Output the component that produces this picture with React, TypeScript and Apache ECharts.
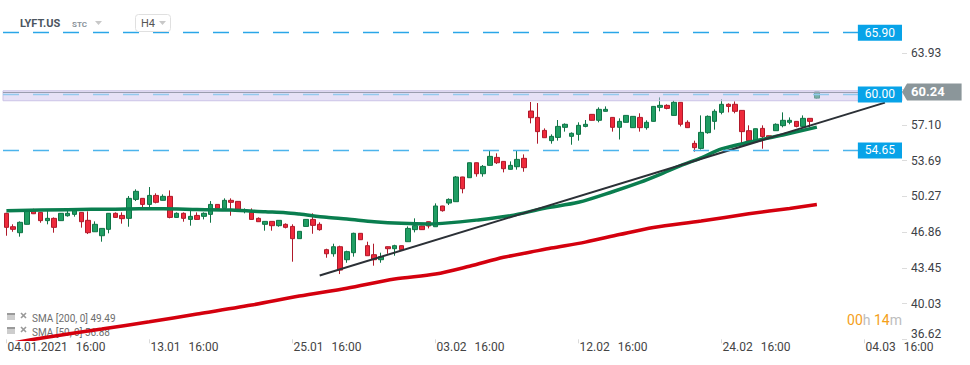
import React, { useEffect, useRef } from 'react';
import * as echarts from 'echarts';

// ---------- data ----------
const categoryCount = 132;
const xTickStep = 21;
const xTickLabels = [
  '04.01.2021 16:00', '13.01 16:00', '25.01 16:00', '03.02 16:00',
  '12.02 16:00', '24.02 16:00', '04.03 16:00',
];
const yTicks = [36.62, 40.03, 43.45, 46.86, 50.27, 53.69, 57.1, 63.93];
const yHiddenTick = 60.52;
const yMin = 36.62;
const yMax = 69.02;

// [open, close, low, high]
const candles: number[][] = [
  [48.65, 47.31, 46.51, 48.7], [47.37, 47.12, 46.89, 47.6], [46.8, 47.79, 46.42, 47.88], [47.6, 48.96, 47.58, 49.03],
  [48.87, 48.61, 48.58, 49.09], [48.74, 47.95, 47.75, 48.76], [47.95, 48.17, 47.6, 49.03], [48.17, 47.31, 46.8, 48.26],
  [47.95, 48.65, 47.93, 48.67], [48.42, 48.65, 48.33, 49.03], [48.55, 49.03, 48.33, 49.12], [48.74, 47.85, 47.28, 48.76],
  [47.98, 46.8, 46.67, 48.84], [46.89, 47.6, 46.87, 47.88], [46.51, 47.21, 45.94, 47.23], [47.12, 48.65, 46.74, 48.67],
  [48.65, 48.26, 48.24, 48.74], [48.45, 48.14, 47.66, 48.74], [48.17, 50.08, 47.37, 50.3], [49.98, 50.75, 49.82, 50.94],
  [50.08, 49.5, 49.22, 50.1], [49.5, 50.36, 49.22, 51.16], [50.36, 49.7, 49.6, 50.56], [49.89, 50.27, 49.87, 50.46],
  [50.27, 48.26, 48.17, 50.84], [48.26, 48.65, 48.24, 48.74], [48.65, 48.17, 47.85, 48.74], [48.07, 48.36, 47.47, 48.93],
  [48.45, 48.07, 48.05, 48.74], [48.36, 48.65, 48.07, 48.74], [48.55, 49.5, 47.75, 49.82], [49.5, 49.12, 49.1, 49.52],
  [49.12, 49.89, 49.1, 50.08], [49.89, 49.7, 48.42, 50.08], [49.79, 49.03, 49.01, 49.81], [48.84, 48.93, 48.65, 49.12],
  [48.74, 48.07, 48.05, 49.12], [48.17, 47.85, 47.83, 48.26], [47.6, 47.88, 46.99, 47.9], [47.88, 47.47, 46.99, 47.9],
  [47.47, 47.98, 47.37, 48.0], [47.6, 47.31, 47.21, 47.69], [47.4, 46.23, 44.03, 47.6], [46.23, 46.93, 46.21, 46.95],
  [47.4, 48.07, 47.38, 48.09], [48.07, 47.5, 46.7, 48.65], [47.6, 47.09, 46.99, 47.79], [45.18, 44.79, 44.41, 45.27],
  [44.79, 45.46, 44.51, 45.75], [45.46, 43.23, 42.85, 45.56], [44.22, 44.99, 43.93, 45.08], [44.89, 46.74, 44.51, 46.8],
  [46.74, 46.13, 46.11, 46.76], [45.56, 44.6, 44.58, 45.94], [44.7, 44.22, 43.65, 45.75], [44.22, 44.51, 43.93, 44.89],
  [45.46, 45.27, 44.79, 45.48], [45.27, 45.56, 44.6, 45.65], [45.56, 45.18, 45.08, 45.58], [45.94, 47.21, 45.92, 47.4],
  [47.09, 47.47, 46.83, 48.17], [47.44, 47.09, 47.07, 47.46], [47.85, 47.44, 47.21, 47.87], [47.37, 49.35, 47.35, 49.6],
  [49.35, 48.9, 48.81, 49.37], [49.63, 49.98, 49.44, 50.08], [49.76, 52.12, 49.74, 52.21], [52.12, 51.0, 50.56, 52.14],
  [52.05, 53.48, 52.03, 53.5], [53.48, 52.43, 52.15, 53.5], [52.43, 53.13, 52.15, 53.26], [53.23, 54.09, 53.21, 54.69],
  [53.99, 53.48, 53.36, 54.38], [53.61, 52.91, 52.56, 53.63], [52.85, 53.23, 52.83, 53.61], [53.1, 53.8, 52.82, 54.69],
  [53.9, 53.01, 52.62, 54.28], [58.42, 57.78, 57.24, 59.28], [57.81, 56.45, 55.3, 59.18], [56.57, 55.87, 55.85, 56.76],
  [55.59, 56.0, 55.3, 56.19], [55.9, 56.95, 55.59, 57.56], [56.86, 57.15, 56.45, 57.24], [56.0, 56.29, 55.2, 56.38],
  [56.19, 57.05, 55.59, 57.34], [56.95, 57.15, 56.86, 57.56], [58.1, 57.53, 57.51, 58.12], [57.53, 58.58, 57.34, 58.77],
  [58.39, 58.58, 58.37, 58.86], [57.81, 56.86, 56.45, 57.83], [56.86, 57.43, 55.7, 57.72], [57.34, 58.0, 57.32, 58.02],
  [56.83, 57.91, 56.81, 57.93], [57.81, 56.83, 56.45, 58.2], [56.83, 57.34, 56.64, 57.53], [57.43, 58.86, 57.41, 58.88],
  [58.77, 58.96, 58.39, 59.72], [58.96, 58.67, 58.58, 59.06], [58.0, 59.25, 57.98, 59.44], [59.25, 57.15, 56.95, 59.27],
  [57.34, 56.83, 56.81, 57.53], [55.33, 54.92, 54.54, 55.59], [54.85, 56.38, 54.73, 58.0], [56.35, 57.91, 56.25, 58.0],
  [57.43, 58.39, 56.64, 58.58], [58.29, 59.06, 58.1, 59.53], [59.06, 58.86, 58.29, 59.15], [59.06, 58.39, 58.2, 59.34],
  [58.48, 56.45, 55.3, 58.5], [56.54, 55.59, 55.3, 57.05], [55.59, 56.73, 55.49, 56.75], [56.76, 55.97, 54.82, 57.05],
  [56.06, 55.87, 55.85, 56.08], [56.54, 57.15, 56.52, 57.24], [57.02, 57.53, 56.86, 58.29], [57.34, 57.53, 57.15, 57.81],
  [57.43, 56.95, 56.86, 57.45], [56.95, 57.72, 56.83, 58.0], [57.72, 57.43, 56.86, 57.74], [59.65, 60.24, 59.6, 60.24],
];

// [candle index, value]
const sma200: number[][] = [
  [0, 36.15], [5, 36.72], [14, 37.6], [21, 38.3], [28, 39.03], [36, 39.89], [43, 40.75], [50, 41.5],
  [57, 42.37], [63, 42.85], [68, 43.6], [73, 44.45], [77, 44.95], [80, 45.33], [85, 45.9], [90, 46.62],
  [95, 47.3], [102, 47.91], [109, 48.6], [115, 49.12], [119, 49.49],
];
const sma50: number[][] = [
  [0, 48.9], [9, 49.0], [16, 49.05], [23, 49.09], [28, 49.02], [33, 48.96], [38, 48.8], [41, 48.71],
  [43, 48.58], [47, 48.27], [50, 48.11], [54, 47.85], [58, 47.69], [62, 47.63], [64, 47.69], [69, 48.0],
  [74, 48.42], [79, 49.13], [84, 49.7], [89, 50.71], [93, 51.6], [96, 52.37], [99, 53.2], [102, 53.95],
  [105, 54.8], [109, 55.43], [114, 56.13], [119, 56.88],
];
const trendLine: number[][] = [[46, 42.71], [129, 59.22]];
const levels = [65.9, 54.65, 60.0];
const currentPrice = 60.24;
const zone = [59.4, 60.35];
const legendTexts = ['SMA [200, 0] 49.49', 'SMA [50, 0] 56.88'];
const symbolName = 'LYFT.US';
const symbolType = 'STC';
const timeframe = 'H4';
const countdown = ['00', 'h', '14', 'm'];

// ---------- chart ----------
const categories = Array.from({ length: categoryCount }, (_, i) => String(i));
const isTick = (i: number) => i % xTickStep === 0 && i / xTickStep < xTickLabels.length;

const FONT = 'Roboto';
const GRAY_PRICE = '#8b969a';
const LEVEL_BLUE = '#08a3e8';
const arrowSvg =
  'data:image/svg+xml;charset=utf-8,' +
  encodeURIComponent(
    '<svg xmlns="http://www.w3.org/2000/svg" width="5" height="17" viewBox="0 0 5 17"><polygon points="5,0 5,17 0,8.5" fill="' +
      GRAY_PRICE +
      '"/></svg>'
  );

const levelColor = (v: number) => (v === 60 ? '#93c9ee' : v === 65.9 ? '#2aa6e8' : '#4cb4ec');

const levelLabel = {
  show: true,
  position: 'insideEnd',
  distance: 0,
  formatter: (p: any) => Number(p.value).toFixed(2),
  color: '#ffffff',
  fontSize: 12,
  fontFamily: FONT,
  lineHeight: 12,
  backgroundColor: LEVEL_BLUE,
  padding: [2, 7, 2, 7],
};

function buildOption(): any {
  const graphics: any[] = [];
  // header
  graphics.push(
    { type: 'text', z: 10, x: 20, y: 23, style: { text: symbolName, fontFamily: FONT, fontSize: 11, fontWeight: 'bold', fill: '#4b5560', verticalAlign: 'middle' } },
    { type: 'text', z: 10, x: 72, y: 24, style: { text: symbolType, fontFamily: FONT, fontSize: 8, fontWeight: 'bold', fill: '#8a939b', verticalAlign: 'middle' } },
    { type: 'polygon', z: 10, shape: { points: [[95, 21], [102, 21], [98.5, 25]] }, style: { fill: '#c8c8c8' } },
    { type: 'rect', z: 10, shape: { x: 135.5, y: 14.5, width: 35, height: 17, r: 3 }, style: { fill: '#fff', stroke: '#e0e0e0', lineWidth: 1 } },
    { type: 'text', z: 11, x: 141, y: 23, style: { text: timeframe, fontFamily: FONT, fontSize: 11, fill: '#555', verticalAlign: 'middle' } },
    { type: 'polygon', z: 11, shape: { points: [[159, 21], [166, 21], [162.5, 25]] }, style: { fill: '#c8c8c8' } }
  );
  // legend rows
  legendTexts.forEach((t, r) => {
    const y0 = 313 + r * 14;
    graphics.push(
      { type: 'rect', z: 1, shape: { x: 7, y: y0, width: 8, height: 2.5 }, style: { fill: '#9a9a9a' } },
      { type: 'rect', z: 1, shape: { x: 7, y: y0 + 3.5, width: 8, height: 1 }, style: { fill: '#9a9a9a' } },
      { type: 'rect', z: 1, shape: { x: 7, y: y0 + 5.5, width: 8, height: 1 }, style: { fill: '#9a9a9a' } },
      { type: 'line', z: 1, shape: { x1: 21, y1: y0, x2: 26, y2: y0 + 5 }, style: { stroke: '#999', lineWidth: 1.6 } },
      { type: 'line', z: 1, shape: { x1: 26, y1: y0, x2: 21, y2: y0 + 5 }, style: { stroke: '#999', lineWidth: 1.6 } },
      { type: 'text', z: 1, x: 32, y: y0 + 5, style: { text: t, fontFamily: FONT, fontSize: 10, fill: '#6e6e6e', verticalAlign: 'middle' } }
    );
  });
  // countdown
  graphics.push({
    type: 'text', z: 10, x: 902, y: 320,
    style: {
      text: `{o|${countdown[0]}}{g|${countdown[1]}} {o|${countdown[2]}}{g|${countdown[3]}}`,
      fontFamily: FONT, fontSize: 14, align: 'right', verticalAlign: 'middle', fill: '#f5a01a',
      rich: {
        o: { fill: '#f5a01a', fontSize: 14, fontFamily: FONT },
        g: { fill: '#bdbdbd', fontSize: 14, fontFamily: FONT },
      },
    },
  });

  return {
    animation: false,
    backgroundColor: '#ffffff',
    textStyle: { fontFamily: FONT },
    grid: { left: 3, right: 68, top: 0, bottom: 25.7, containLabel: false, outerBoundsMode: 'none' },
    xAxis: {
      type: 'category',
      data: categories,
      boundaryGap: true,
      axisLine: { show: false },
      splitLine: { show: false },
      axisTick: { show: true, alignWithLabel: true, interval: (i: number) => isTick(i), length: 4, lineStyle: { color: '#dadada' } },
      axisLabel: {
        interval: (i: number) => isTick(i),
        margin: 2,
        align: 'left',
        color: '#444',
        fontSize: 12,
        formatter: (_v: string, index: number) => {
          const lbl = xTickLabels[Math.round(index / xTickStep)] || '';
          const [d, t] = lbl.split(' ');
          return `{d|${d}}{t|${t}}`;
        },
        rich: {
          d: { color: '#444', fontSize: 12, fontFamily: FONT, padding: [0, 0, 0, 1] },
          t: { color: '#444', fontSize: 12, fontFamily: FONT, padding: [0, 0, 0, 8] },
        },
      },
    },
    yAxis: {
      type: 'value',
      position: 'right',
      min: yMin,
      max: yMax,
      scale: true,
      axisLine: { show: false },
      splitLine: { show: false },
      axisTick: { show: true, length: 5, lineStyle: { color: '#dcdcdc' }, customValues: [...yTicks, yHiddenTick] },
      axisLabel: {
        customValues: yTicks,
        margin: 9,
        color: '#3c4146',
        fontSize: 12,
        formatter: (v: number) => (Math.abs(v - yMin) < 0.01 ? `{lo|${v.toFixed(2)}}` : v.toFixed(2)),
        rich: { lo: { color: '#3c4146', fontSize: 12, fontFamily: FONT, padding: [0, 0, 11, 0] } },
      },
    },
    graphic: { elements: graphics },
    series: [
      {
        type: 'candlestick',
        name: 'LYFT.US',
        data: candles,
        barWidth: 5,
        z: 2,
        itemStyle: { color: '#1f9e63', color0: '#ee2a3b', borderColor: '#0f7446', borderColor0: '#b0192a', borderWidth: 1 },
      },
      {
        type: 'line', name: 'SMA 200', data: sma200, symbol: 'none', smooth: 0.3, z: 3, clip: true,
        lineStyle: { color: '#d4000e', width: 3.5 },
      },
      {
        type: 'line', name: 'SMA 50', data: sma50, symbol: 'none', smooth: 0.3, z: 3, clip: true,
        lineStyle: { color: '#0a7e4f', width: 3.5 },
      },
      {
        type: 'line', name: 'Trend', data: trendLine, symbol: 'none', z: 4,
        lineStyle: { color: '#2b3036', width: 2 },
        markArea: {
          silent: true, z: 3,
          itemStyle: { color: 'rgba(206,196,238,0.5)', borderColor: '#cbc3e6', borderWidth: 1 },
          label: { show: false },
          data: [[{ yAxis: zone[0] }, { yAxis: zone[1] }]],
        },
        markLine: {
          silent: true, z: 6, symbol: ['none', 'none'],
          lineStyle: { type: [16, 14], width: 1.3, color: '#2aa6e8' },
          label: levelLabel,
          data: [
            {
              yAxis: currentPrice,
              lineStyle: { type: 'solid', color: '#9a9cae', width: 1.2 },
              label: {
                show: true, position: 'end', distance: 0, backgroundColor: 'transparent', padding: 0,
                formatter: `{a|}{p|${currentPrice.toFixed(2)}}`,
                rich: {
                  a: { width: 5, height: 17, backgroundColor: { image: arrowSvg } },
                  p: { backgroundColor: GRAY_PRICE, color: '#fff', fontWeight: 'bold', fontSize: 13, fontFamily: FONT, lineHeight: 13, padding: [2, 17, 2, 4] },
                },
              },
            },
            ...levels.map((v) => ({
              yAxis: v,
              lineStyle: { type: [16, 14], width: 1.3, color: levelColor(v) },
              label: { ...levelLabel },
            })),
          ],
        },
      },
    ],
  };
}

export default function App() {
  const ref = useRef<HTMLDivElement>(null);
  useEffect(() => {
    document.body.style.margin = '0';
    if (!ref.current) return;
    const chart = echarts.init(ref.current, undefined, { renderer: 'svg' });
    chart.setOption(buildOption());
    return () => chart.dispose();
  }, []);
  return <div ref={ref} style={{ width: 970, height: 365, position: 'absolute', left: 0, top: 0 }} />;
}
